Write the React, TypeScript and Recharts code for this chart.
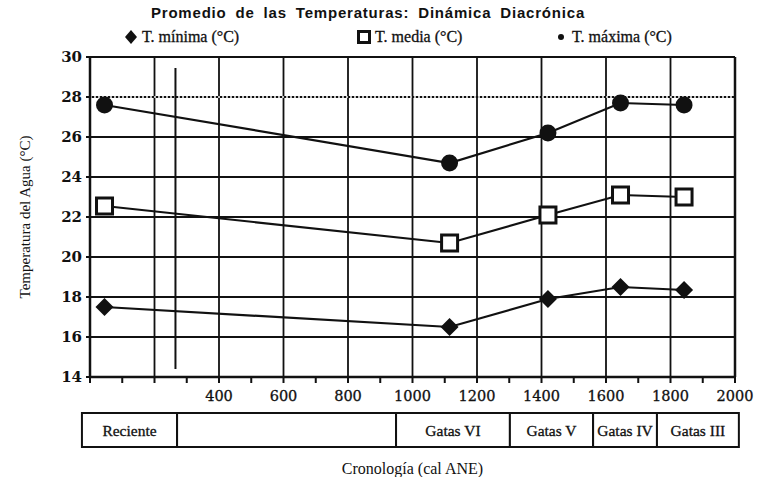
import React from 'react';
import {
  ComposedChart,
  Line,
  XAxis,
  YAxis,
  CartesianGrid,
  ReferenceLine,
  ReferenceArea,
} from 'recharts';

const categories = ['Reciente', 'Gatas VI', 'Gatas V', 'Gatas IV', 'Gatas III'];
const xPositions = [45, 1115, 1420, 1645, 1842];
const tMin = [17.5, 16.5, 17.9, 18.5, 18.35];
const tMedia = [22.55, 20.7, 22.1, 23.1, 23.0];
const tMax = [27.6, 24.7, 26.2, 27.7, 27.6];

const yTicks = [14, 16, 18, 20, 22, 24, 26, 28, 30];
const yMinorTicks = [15, 17, 19, 21, 23, 25, 27, 29];
const xTicks = [0, 100, 200, 300, 400, 500, 600, 700, 800, 900, 1000, 1100, 1200, 1300, 1400, 1500, 1600, 1700, 1800, 1900, 2000];
const xTickLabels = [400, 600, 800, 1000, 1200, 1400, 1600, 1800, 2000];
const xGridLines = [200, 400, 600, 800, 1000, 1200, 1400, 1600, 1800];

const periodNames = ['Reciente', '', 'Gatas VI', 'Gatas V', 'Gatas IV', 'Gatas III'];
const periodBounds = [-25, 270, 949, 1302, 1560, 1758, 2012];
const markerLineX = 265;

const data = categories.map((c, i) => ({
  name: c,
  x: xPositions[i],
  tMin: tMin[i],
  tMedia: tMedia[i],
  tMax: tMax[i],
}));

const INK = '#111';
const SERIF = '"Liberation Serif", "Times New Roman", serif';
const DSERIF = '"DejaVu Serif", serif';

const CircleDot = (props: any) => {
  const { cx, cy } = props;
  if (cx == null || cy == null) return null;
  return <circle key={`c-${cx}`} cx={cx} cy={cy} r={8.5} fill={INK} />;
};
const SquareDot = (props: any) => {
  const { cx, cy } = props;
  if (cx == null || cy == null) return null;
  return <rect key={`s-${cx}`} x={cx - 8} y={cy - 8} width={16} height={16} fill="#fff" stroke={INK} strokeWidth={3} />;
};
const DiamondDot = (props: any) => {
  const { cx, cy } = props;
  if (cx == null || cy == null) return null;
  const r = 9;
  return <polygon key={`d-${cx}`} points={`${cx},${cy - r} ${cx + r},${cy} ${cx},${cy + r} ${cx - r},${cy}`} fill={INK} />;
};

const XTick = (props: any) => {
  const { x, y, payload } = props;
  if (!xTickLabels.includes(payload.value)) return null;
  return (
    <text x={x} y={y + 16} textAnchor="middle" fontFamily={DSERIF} fontSize={14.5} fill={INK} stroke={INK} strokeWidth={0.3}>
      {payload.value}
    </text>
  );
};

const YTick = (props: any) => {
  const { x, y, payload } = props;
  return (
    <text x={x - 2} y={y + 5} textAnchor="end" fontFamily={DSERIF} fontSize={15} fontWeight="bold" fill={INK}>
      {payload.value}
    </text>
  );
};

export default function App() {
  return (
    <div style={{ position: 'absolute', left: 0, top: 0, width: 758, height: 477, background: '#fff' }}>
      <div
        style={{
          position: 'absolute',
          left: 0,
          top: 4,
          width: 736,
          textAlign: 'center',
          fontFamily: '"Liberation Sans", Arial, sans-serif',
          fontWeight: 'bold',
          fontSize: 15,
          letterSpacing: 0.8,
          wordSpacing: 4,
          color: INK,
        }}
      >
        Promedio de las Temperaturas: Dinámica Diacrónica
      </div>
      <div
        style={{
          position: 'absolute',
          left: 0,
          top: 28,
          width: 758,
          fontFamily: SERIF,
          fontSize: 16,
          color: INK,
          WebkitTextStroke: '0.3px #111',
        }}
      >
        <div style={{ position: 'absolute', left: 124, display: 'flex', alignItems: 'center', whiteSpace: 'nowrap' }}>
          <svg width={14} height={14} style={{ marginRight: 4 }}>
            <polygon points="7,0 13,7 7,14 1,7" fill={INK} />
          </svg>
          T. mínima (°C)
        </div>
        <div style={{ position: 'absolute', left: 357, display: 'flex', alignItems: 'center', whiteSpace: 'nowrap' }}>
          <svg width={14} height={14} style={{ marginRight: 4 }}>
            <rect x={1.5} y={1.5} width={11} height={11} fill="#fff" stroke={INK} strokeWidth={3} />
          </svg>
          T. media (°C)
        </div>
        <div style={{ position: 'absolute', left: 554, display: 'flex', alignItems: 'center', whiteSpace: 'nowrap' }}>
          <svg width={14} height={14} style={{ marginRight: 4 }}>
            <circle cx={7} cy={7} r={3} fill={INK} />
          </svg>
          T. máxima (°C)
        </div>
      </div>
      <ComposedChart
        width={758}
        height={477}
        data={data}
        margin={{ top: 57, right: 0, bottom: 0, left: 0 }}
        style={{ position: 'absolute', left: 0, top: 0 }}
      >
        <CartesianGrid yAxisId="left" vertical={false} stroke="#111" strokeWidth={2} />
        {xGridLines.map((v) => (
          <ReferenceLine key={`g${v}`} yAxisId="left" x={v} stroke="#111" strokeWidth={1.8} ifOverflow="visible" />
        ))}
        <ReferenceLine yAxisId="left" y={28} stroke="#fff" strokeWidth={1.4} strokeDasharray="2 2" />
        <XAxis
          type="number"
          dataKey="x"
          domain={[0, 2000]}
          ticks={xTicks}
          interval={0}
          height={100}
          tick={<XTick />}
          tickSize={6}
          tickLine={{ stroke: INK, strokeWidth: 2 }}
          axisLine={{ stroke: INK, strokeWidth: 2.5 }}
          label={{ value: 'Cronología (cal ANE)', position: 'insideBottom', offset: 3, style: { fontFamily: SERIF, fontSize: 16, fill: INK } }}
        />
        <YAxis
          yAxisId="left"
          type="number"
          domain={[14, 30]}
          ticks={yTicks}
          interval={0}
          width={90}
          tick={<YTick />}
          tickSize={4}
          tickLine={{ stroke: INK, strokeWidth: 2 }}
          axisLine={{ stroke: INK, strokeWidth: 2.5 }}
          label={{ value: 'Temperatura del Agua (°C)', angle: -90, position: 'insideLeft', offset: 25, style: { textAnchor: 'middle', fontFamily: SERIF, fontSize: 15, fill: INK } }}
        />
        <YAxis
          yAxisId="right"
          orientation="right"
          type="number"
          domain={[14, 30]}
          ticks={yMinorTicks}
          interval={0}
          width={23}
          tickSize={3}
          tickFormatter={() => ''}
          tickLine={{ stroke: INK, strokeWidth: 2 }}
          axisLine={{ stroke: INK, strokeWidth: 2.5 }}
        />
        {periodNames.map((n, i) => (
          <ReferenceArea
            key={`p${i}`}
            yAxisId="left"
            x1={periodBounds[i]}
            x2={periodBounds[i + 1]}
            y1={10.5}
            y2={12.2}
            ifOverflow="visible"
            fill="#fff"
            fillOpacity={1}
            stroke={INK}
            strokeWidth={2}
            label={{ value: n, position: 'center', style: { fontFamily: SERIF, fontSize: 15.5, fill: INK, stroke: INK, strokeWidth: 0.3 } }}
          />
        ))}
        <ReferenceLine
          yAxisId="left"
          segment={[{ x: markerLineX, y: 29.45 }, { x: markerLineX, y: 14.4 }]}
          stroke={INK}
          strokeWidth={2}
          ifOverflow="visible"
        />
        <Line yAxisId="left" dataKey="tMax" stroke={INK} strokeWidth={2.2} dot={<CircleDot />} activeDot={false} isAnimationActive={false} />
        <Line yAxisId="left" dataKey="tMedia" stroke={INK} strokeWidth={2.2} dot={<SquareDot />} activeDot={false} isAnimationActive={false} />
        <Line yAxisId="left" dataKey="tMin" stroke={INK} strokeWidth={2.2} dot={<DiamondDot />} activeDot={false} isAnimationActive={false} />
      </ComposedChart>
    </div>
  );
}
